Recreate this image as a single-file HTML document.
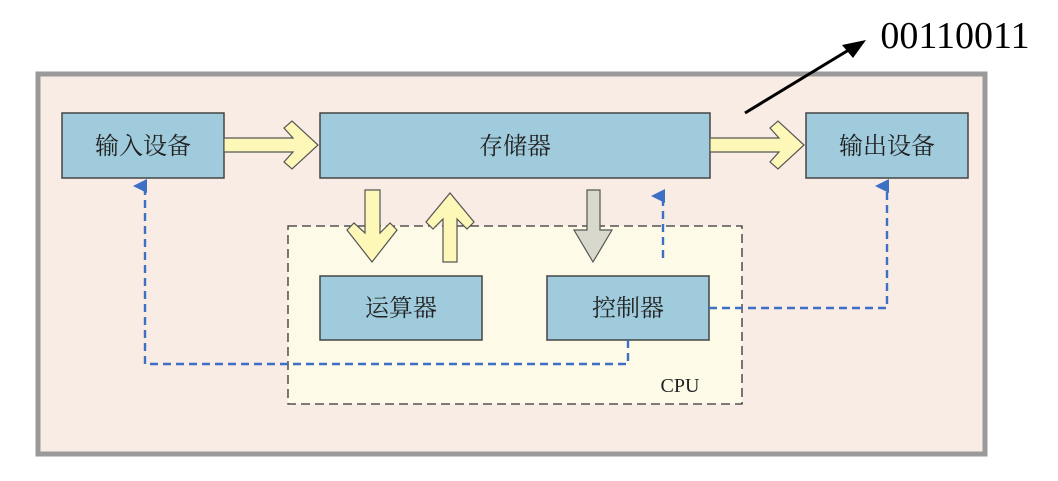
<!DOCTYPE html>
<html><head><meta charset="utf-8"><style>
body{margin:0;background:#fff;width:1058px;height:476px;overflow:hidden}
text{font-family:"Liberation Serif","Noto Serif CJK SC","Noto Sans CJK SC",serif}
</style></head><body>
<svg width="1058" height="476" xmlns="http://www.w3.org/2000/svg">
<defs>
<marker id="ba" markerWidth="14" markerHeight="14" refX="7" refY="12" orient="auto-start-reverse" markerUnits="userSpaceOnUse"><path d="M0,14 L7,0 L14,14 Z" fill="#3d6fc4"/></marker>
</defs>
<rect x="38" y="74" width="947" height="380" fill="#f8ece4" stroke="#9a9a9a" stroke-width="5"/>
<rect x="288" y="226" width="454" height="178" fill="#fdfbe8" stroke="#333" stroke-width="1.3" stroke-dasharray="9,5"/>
<g fill="#9fcbdc" stroke="#444" stroke-width="1.5">
<rect x="62" y="113" width="162" height="65"/>
<rect x="320" y="113" width="390" height="65"/>
<rect x="806" y="113" width="162" height="65"/>
<rect x="320" y="276" width="162" height="64"/>
<rect x="547" y="276" width="162" height="64"/>
</g>
<g font-size="24" fill="#222" text-anchor="middle">
<text x="143" y="154">输入设备</text>
<text x="515" y="154">存储器</text>
<text x="887" y="154">输出设备</text>
<text x="401" y="316">运算器</text>
<text x="628" y="316">控制器</text>
</g>
<text x="680" y="392" font-size="20" fill="#222" text-anchor="middle">CPU</text>
<g fill="#fdf7b8" stroke="#555" stroke-width="1.2">
<path d="M224,138 H293 L284,128 L292,121 L318,145 L292,169 L284,162 L293,152 H224 Z"/>
<path d="M710,138 H779 L770,128 L778,121 L804,145 L778,169 L770,162 L779,152 H710 Z"/>
<path d="M365,190 H380 V233 L390,223 L397,230 L372,262 L347,230 L354,223 L365,233 Z"/>
<path d="M443,262 H457 V219 L467,229 L474,222 L450,193 L426,222 L433,229 L443,219 Z"/>
</g>
<path d="M587,190 H600 V230 H612 L593,262 L574,230 H587 Z" fill="#d8d8cc" stroke="#555" stroke-width="1.2"/>
<g fill="none" stroke="#3d6fc4" stroke-width="2.4" stroke-dasharray="8,5">
<path d="M628,340 V364 H145 V186" marker-end="url(#ba)"/>
<path d="M663,258 V196" marker-end="url(#ba)"/>
<path d="M709,308 H887 V186" marker-end="url(#ba)"/>
</g>
<line x1="745" y1="113" x2="852" y2="48" stroke="#000" stroke-width="3"/>
<path d="M866,40 L842,45 L853,58 Z" fill="#000"/>
<text x="955" y="48" font-size="38" fill="#000" text-anchor="middle">00110011</text>
</svg>
</body></html>
